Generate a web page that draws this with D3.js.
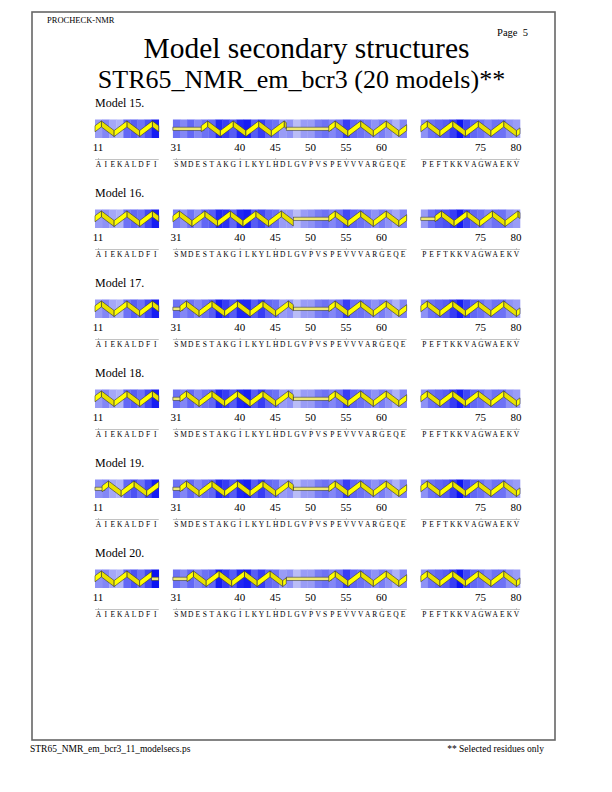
<!DOCTYPE html>
<html>
<head>
<meta charset="utf-8">
<script src="https://cdn.jsdelivr.net/npm/d3@7"></script>
<style>
  html, body { margin: 0; padding: 0; background: #fff; }
</style>
</head>
<body>
<svg width="612" height="792"></svg>
<script>
// segments of residues shown (first, last)
const segments = [[11, 19], [31, 63], [67, 80]];
const sequences = ["AIEKALDFI", "SMDESTAKGILKYLHDLGVPVSPEVVVARGEQE", "PEFTKKVAGWAEKV"];
const tickResidues = [11, 31, 40, 45, 50, 55, 60, 75, 80];
const models = [15, 16, 17, 18, 19, 20];

// helix ranges per model, the rest of each segment is coil
const helix15 = [[11, 19], [35, 46], [53, 63], [67, 80]];
const helix16 = [[11, 19], [31, 47], [53, 63], [69, 80]];
const helix17 = [[11, 19], [32, 47], [53, 63], [67, 80]];
const helix18 = [[11, 19], [32, 47], [53, 63], [67, 80]];
const helix19 = [[12, 19], [32, 47], [53, 63], [67, 80]];
const helix20 = [[11, 18], [33, 46], [53, 63], [67, 80]];

// shading of each residue (0 = pale, 1 = deep blue), in residue order
const shade15 = [0.3, 0.4, 0.25, 0.2, 0.55, 0.6, 0.5, 0.65, 0.9,
  0.5, 0.4, 0.55, 0.4, 0.5, 0.55, 0.85, 0.75, 0.6, 0.85, 0.9, 0.6, 0.75, 0.55, 0.5, 0.3, 0.35,
  0.15, 0.3, 0.3, 0.45, 0.5, 0.4, 0.5, 0.75, 0.55, 0.5, 0.45, 0.35, 0.45, 0.35, 0.2, 0.4,
  0.35, 0.5, 0.55, 0.6, 0.75, 0.95, 0.7, 0.55, 0.5, 0.4, 0.5, 0.5, 0.35, 0.3];
const shade16 = [0.3, 0.35, 0.25, 0.2, 0.5, 0.55, 0.5, 0.7, 0.9,
  0.45, 0.35, 0.5, 0.35, 0.55, 0.6, 0.85, 0.8, 0.55, 0.85, 0.9, 0.6, 0.7, 0.55, 0.5, 0.3, 0.3,
  0.15, 0.3, 0.35, 0.45, 0.5, 0.4, 0.5, 0.7, 0.55, 0.5, 0.45, 0.35, 0.45, 0.35, 0.25, 0.4,
  0.3, 0.5, 0.6, 0.65, 0.75, 0.9, 0.7, 0.55, 0.5, 0.4, 0.5, 0.5, 0.35, 0.3];
const shade17 = [0.3, 0.4, 0.25, 0.2, 0.5, 0.6, 0.5, 0.7, 0.9,
  0.5, 0.4, 0.5, 0.4, 0.5, 0.6, 0.9, 0.75, 0.6, 0.85, 0.85, 0.6, 0.75, 0.55, 0.5, 0.3, 0.35,
  0.15, 0.3, 0.3, 0.45, 0.5, 0.4, 0.5, 0.75, 0.5, 0.5, 0.45, 0.35, 0.45, 0.35, 0.2, 0.4,
  0.35, 0.5, 0.55, 0.6, 0.75, 0.9, 0.7, 0.55, 0.5, 0.4, 0.5, 0.5, 0.35, 0.3];
const shade18 = [0.3, 0.4, 0.25, 0.2, 0.55, 0.6, 0.5, 0.7, 0.9,
  0.5, 0.4, 0.55, 0.4, 0.5, 0.55, 0.85, 0.75, 0.6, 0.85, 0.9, 0.6, 0.75, 0.55, 0.5, 0.3, 0.35,
  0.15, 0.3, 0.3, 0.45, 0.5, 0.4, 0.5, 0.75, 0.55, 0.5, 0.45, 0.35, 0.45, 0.35, 0.2, 0.4,
  0.35, 0.5, 0.55, 0.6, 0.75, 0.9, 0.7, 0.55, 0.5, 0.4, 0.5, 0.5, 0.35, 0.3];
const shade19 = [0.35, 0.4, 0.25, 0.2, 0.55, 0.65, 0.5, 0.7, 0.9,
  0.5, 0.4, 0.55, 0.4, 0.5, 0.55, 0.85, 0.75, 0.6, 0.85, 0.9, 0.6, 0.75, 0.55, 0.5, 0.3, 0.35,
  0.15, 0.3, 0.3, 0.45, 0.5, 0.4, 0.5, 0.75, 0.55, 0.5, 0.45, 0.35, 0.45, 0.35, 0.2, 0.4,
  0.35, 0.5, 0.55, 0.6, 0.75, 0.95, 0.7, 0.55, 0.5, 0.4, 0.5, 0.5, 0.35, 0.3];
const shade20 = [0.35, 0.4, 0.25, 0.2, 0.55, 0.65, 0.5, 0.7, 0.95,
  0.5, 0.4, 0.55, 0.4, 0.5, 0.55, 0.9, 0.75, 0.6, 0.85, 0.9, 0.6, 0.75, 0.55, 0.5, 0.3, 0.35,
  0.15, 0.3, 0.3, 0.45, 0.5, 0.4, 0.5, 0.75, 0.55, 0.5, 0.45, 0.35, 0.45, 0.35, 0.2, 0.4,
  0.35, 0.5, 0.55, 0.6, 0.75, 0.95, 0.7, 0.55, 0.5, 0.4, 0.5, 0.5, 0.35, 0.3];

const helices = [helix15, helix16, helix17, helix18, helix19, helix20];
const shades = [shade15, shade16, shade17, shade18, shade19, shade20];

const FONT = "'Liberation Serif', 'Times New Roman', Times, 'DejaVu Serif', serif";
const svg = d3.select("svg").attr("font-family", FONT);
const GAP = 2;          // empty residue slots between segments
const firstTop = 119.5; // top of the first strip
const step = 90;        // vertical distance between models
const bandH = 18.5;

// residue list with the slot each one takes on the line
const residues = [];
let slot = 0;
segments.forEach(([a, b], si) => {
  for (let r = a; r <= b; r++) {
    residues.push({ num: r, seg: si, slot: slot, aa: sequences[si][r - a] });
    slot++;
  }
  slot += GAP;
});
const nSlots = slot - GAP;
const bySlot = new Map(residues.map(d => [d.num, d]));

const x = d3.scaleLinear().domain([0, nSlots]).range([95, 520]);
const w = x(1) - x(0);
const colour = d3.scaleLinear().domain([0, 1]).range(["#dadcf8", "#0008f2"]);
const left = r => x(bySlot.get(r).slot);
const right = r => x(bySlot.get(r).slot + 1);

const txt = (sel) => sel.style("font-family", FONT).attr("fill", "#000");

// page frame and headings
svg.append("rect").attr("x", 32).attr("y", 12).attr("width", 523).attr("height", 728)
  .attr("fill", "none").attr("stroke", "#666").attr("stroke-width", 1.6);
svg.append("text").attr("x", 47).attr("y", 23).style("font-size", "8.5px").call(txt).text("PROCHECK-NMR");
svg.append("text").attr("x", 528).attr("y", 36).attr("text-anchor", "end")
  .style("font-size", "10.5px").style("white-space", "pre").call(txt).text("Page  5");
svg.append("text").attr("x", 306.5).attr("y", 58).attr("text-anchor", "middle")
  .style("font-size", "29.5px").call(txt).text("Model secondary structures");
svg.append("text").attr("x", 301.5).attr("y", 88).attr("text-anchor", "middle")
  .style("font-size", "26px").call(txt).text("STR65_NMR_em_bcr3 (20 models)**");
svg.append("text").attr("x", 30).attr("y", 752).style("font-size", "9.5px").call(txt)
  .text("STR65_NMR_em_bcr3_11_modelsecs.ps");
svg.append("text").attr("x", 544).attr("y", 752).attr("text-anchor", "end")
  .style("font-size", "9.5px").call(txt).text("** Selected residues only");

// helix ribbon: zigzag of parallelograms
function helixPath(x0, x1, mid, amp, t) {
  const half = w * 1.8;
  const pts = [[x0, mid]];
  let k = 0;
  let px = x0 + half / 2;
  while (px < x1) {
    pts.push([px, k % 2 === 0 ? mid - amp : mid + amp]);
    px += half;
    k++;
  }
  // clip last leg at x1
  const [lx, ly] = pts[pts.length - 1];
  const ny = k % 2 === 0 ? mid - amp : mid + amp;
  const ey = ly + (ny - ly) * (x1 - lx) / (px - lx);
  pts.push([x1, ey]);
  const parts = [];
  for (let i = 0; i < pts.length - 1; i++) {
    const [xa, ya] = pts[i], [xb, yb] = pts[i + 1];
    parts.push({
      up: yb < ya,
      d: `M${xa},${ya - t / 2}L${xb},${yb - t / 2}L${xb},${yb + t / 2}L${xa},${ya + t / 2}Z`
    });
  }
  return parts;
}

models.forEach((m, mi) => {
  const top = firstTop + mi * step;
  const mid = top + bandH / 2;
  const g = svg.append("g");

  g.append("text").attr("x", 95).attr("y", top - 13).style("font-size", "12px").call(txt)
    .text(`Model ${m}.`);

  // shaded cells
  g.selectAll("rect.cell").data(residues).join("rect").attr("class", "cell")
    .attr("x", d => x(d.slot)).attr("y", top)
    .attr("width", w + 0.3).attr("height", bandH)
    .attr("fill", (d, i) => colour(shades[mi][i]));

  // coil pieces: residues of a segment not inside a helix
  const inHelix = r => helices[mi].some(([a, b]) => r >= a && r <= b);
  segments.forEach(([a, b]) => {
    let start = null;
    for (let r = a; r <= b + 1; r++) {
      const coil = r <= b && !inHelix(r);
      if (coil && start === null) start = r;
      if (!coil && start !== null) {
        const x0 = left(start), x1 = right(r - 1) + (r - 1 < b ? w * 0.4 : 0);
        g.append("rect").attr("x", x0).attr("y", mid - 1.6)
          .attr("width", x1 - x0).attr("height", 3.2)
          .attr("fill", "#eeea70").attr("stroke", "#444").attr("stroke-width", 0.6);
        start = null;
      }
    }
  });

  // helices
  helices[mi].forEach(([a, b]) => {
    const parts = helixPath(left(a), right(b), mid, 4.8, 6);
    g.selectAll(null).data(parts.filter(p => !p.up)).join("path")
      .attr("d", p => p.d).attr("fill", "#e8e000")
      .attr("stroke", "#333").attr("stroke-width", 0.6).attr("stroke-linejoin", "round");
    g.selectAll(null).data(parts.filter(p => p.up)).join("path")
      .attr("d", p => p.d).attr("fill", "#ffff00")
      .attr("stroke", "#333").attr("stroke-width", 0.6).attr("stroke-linejoin", "round");
  });

  // residue numbers
  g.selectAll("text.num").data(tickResidues).join("text").attr("class", "num")
    .attr("x", r => left(r) + w / 2 - 0.5).attr("y", top + 31)
    .attr("text-anchor", "middle").style("font-size", "11px").call(txt).text(r => r);

  // sequence line and letters
  segments.forEach(([a, b]) => {
    g.append("line").attr("x1", left(a)).attr("x2", right(b))
      .attr("y1", top + 40).attr("y2", top + 40)
      .attr("stroke", "#999").attr("stroke-width", 0.6);
  });
  g.selectAll("line.tk").data(tickResidues).join("line").attr("class", "tk")
    .attr("x1", r => left(r) + w / 2).attr("x2", r => left(r) + w / 2)
    .attr("y1", top + 38.5).attr("y2", top + 40)
    .attr("stroke", "#999").attr("stroke-width", 0.6);
  g.selectAll("text.aa").data(residues).join("text").attr("class", "aa")
    .attr("x", d => x(d.slot) + w / 2).attr("y", top + 47.5)
    .attr("text-anchor", "middle").style("font-size", "7.5px").call(txt).text(d => d.aa);
});
</script>
</body>
</html>
